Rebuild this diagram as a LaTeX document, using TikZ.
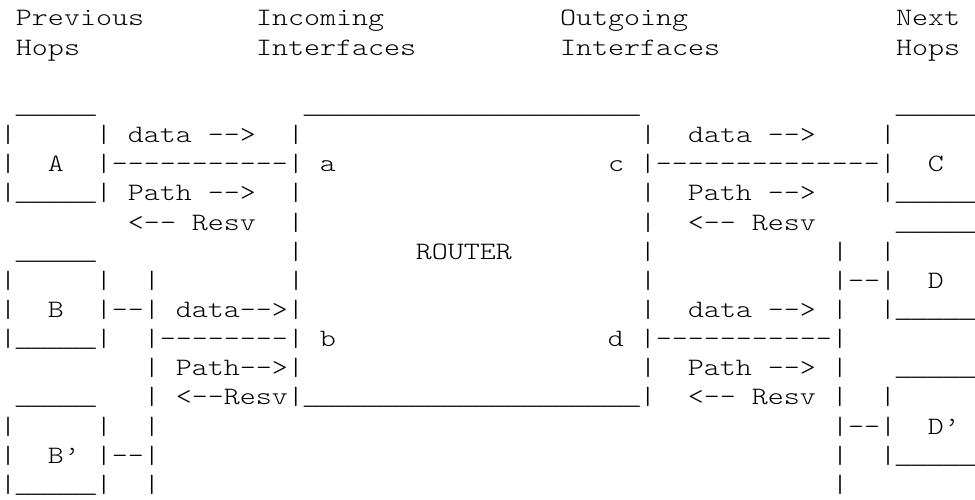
\documentclass[tikz,border=0pt]{standalone}
\usepackage{fontspec}
\setmonofont{lmmonolt10-regular.otf}[FakeStretch=1.21905]
\newfontfamily\usfont{Liberation Mono}
\ExplSyntaxOn
\cs_new:Npn \myrep #1#2 { \prg_replicate:nn {#1} {#2} }
\ExplSyntaxOff
\newcommand\Sp[1]{\myrep{#1}{~}}
\newcommand\Us[1]{{\usfont\fontsize{26.662pt}{30pt}\selectfont\myrep{#1}{\_}}}
\newcommand\Ds[1]{\myrep{#1}{-}}
\begin{document}
\begin{tikzpicture}[x=1pt,y=1pt,
  asciirow/.style={anchor=base west, inner sep=0pt, outer sep=0pt,
    font={\ttfamily\fontsize{25pt}{30pt}\selectfont}, text=black}]
\useasboundingbox (0,0) rectangle (975,500);
\fill[white] (0,0) rectangle (975,500);
\clip (0,0) rectangle (975,500);
\node[asciirow] (row0) at (0,{474-29.15*0}) {\Sp{1}Previous\Sp{7}Incoming\Sp{11}Outgoing\Sp{13}Next};
\node[asciirow] (row1) at (0,{474-29.15*1}) {\Sp{1}Hops\Sp{11}Interfaces\Sp{9}Interfaces\Sp{11}Hops};
\node[asciirow] (row3) at (0,{474-29.15*3}) {\Sp{1}\Us{5}\Sp{13}\Us{21}\Sp{16}\Us{5}};
\node[asciirow] (row4) at (0,{474-29.15*4}) {|\Sp{5}|\Sp{1}data~-->\Sp{2}|\Sp{21}|\Sp{2}data~-->\Sp{4}|};
\node[asciirow] (row5) at (0,{474-29.15*5}) {|\Sp{2}A\Sp{2}|\Ds{11}|\Sp{1}a\Sp{17}c\Sp{1}|\Ds{14}|\Sp{2}C};
\node[asciirow] (row6) at (0,{474-29.15*6}) {|\Us{5}|\Sp{1}Path~-->\Sp{2}|\Sp{21}|\Sp{2}Path~-->\Sp{4}|\Us{5}};
\node[asciirow] (row7) at (0,{474-29.15*7}) {\Sp{8}<--~Resv\Sp{2}|\Sp{21}|\Sp{2}<--~Resv\Sp{5}\Us{5}};
\node[asciirow] (row8) at (0,{474-29.15*8}) {\Sp{1}\Us{5}\Sp{12}|\Sp{7}ROUTER\Sp{8}|\Sp{11}|\Sp{2}|};
\node[asciirow] (row9) at (0,{474-29.15*9}) {|\Sp{5}|\Sp{2}|\Sp{8}|\Sp{21}|\Sp{11}|--|\Sp{2}D};
\node[asciirow] (row10) at (0,{474-29.15*10}) {|\Sp{2}B\Sp{2}|--|\Sp{1}data-->|\Sp{21}|\Sp{2}data~-->\Sp{1}|\Sp{2}|\Us{5}};
\node[asciirow] (row11) at (0,{474-29.15*11}) {|\Us{5}|\Sp{2}|\Ds{8}|\Sp{1}b\Sp{17}d\Sp{1}|\Ds{11}|};
\node[asciirow] (row12) at (0,{474-29.15*12}) {\Sp{9}|\Sp{1}Path-->|\Sp{21}|\Sp{2}Path~-->\Sp{1}|\Sp{3}\Us{5}};
\node[asciirow] (row13) at (0,{474-29.15*13}) {\Sp{1}\Us{5}\Sp{3}|\Sp{1}<--Resv|\Us{21}|\Sp{2}<--~Resv\Sp{1}|\Sp{2}|};
\node[asciirow] (row14) at (0,{474-29.15*14}) {|\Sp{5}|\Sp{2}|\Sp{42}|--|\Sp{2}D’};
\node[asciirow] (row15) at (0,{474-29.15*15}) {|\Sp{2}B’\Sp{1}|--|\Sp{42}|\Sp{2}|\Us{5}};
\node[asciirow] (row16) at (0,{474-29.15*16}) {|\Us{5}|\Sp{2}|\Sp{42}|};
\end{tikzpicture}
\end{document}
